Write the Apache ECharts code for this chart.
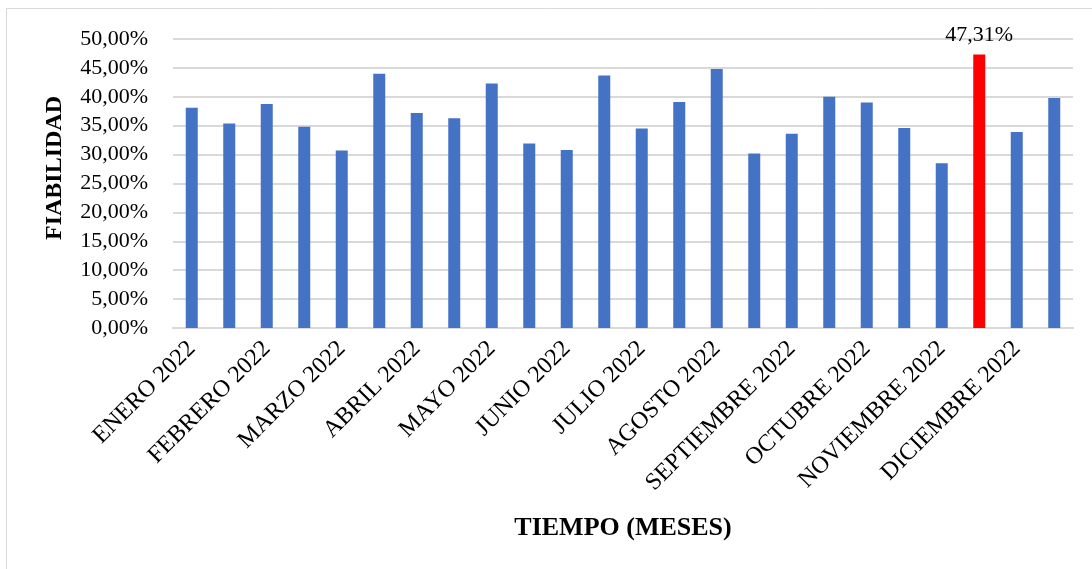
<!DOCTYPE html>
<html>
<head>
<meta charset="utf-8">
<script src="https://cdn.jsdelivr.net/npm/echarts@6/dist/echarts.min.js"></script>
<style>
html,body{margin:0;padding:0;background:#fff;}
#chart{width:1092px;height:569px;}
</style>
</head>
<body>
<div id="chart"></div>
<script>
const months = ['ENERO 2022','FEBRERO 2022','MARZO 2022','ABRIL 2022','MAYO 2022','JUNIO 2022','JULIO 2022','AGOSTO 2022','SEPTIEMBRE 2022','OCTUBRE 2022','NOVIEMBRE 2022','DICIEMBRE 2022'];
const categories = months.flatMap(m => [m, m]);
const fiabilidad = [38.1, 35.4, 38.75, 34.8, 30.7, 44.0, 37.2, 36.3, 42.3, 31.9, 30.8, 43.7, 34.5, 39.1, 44.8, 30.2, 33.6, 40.0, 39.0, 34.6, 28.5, 47.31, 33.9, 39.8];
const highlightIndex = 21;
const yTicks = {min: 0, max: 50, interval: 5};

const fmt = v => v.toFixed(2).replace('.', ',') + '%';
const serif = '"Liberation Serif", "Times New Roman", serif';

const chart = echarts.init(document.getElementById('chart'));
chart.setOption({
  animation: false,
  backgroundColor: '#fff',
  grid: {left: 173, right: 19, top: 39, bottom: 241},
  graphic: [
    {type: 'rect', shape: {x: 6.5, y: 8.5, width: 1200, height: 700}, style: {fill: 'none', stroke: '#d9d9d9', lineWidth: 1}},
    {type: 'text', x: 55, y: 168, rotation: Math.PI / 2,
     style: {text: 'FIABILIDAD', font: 'bold 24px ' + serif, fill: '#000', align: 'center', verticalAlign: 'middle'}},
    {type: 'text', x: 623, y: 528,
     style: {text: 'TIEMPO (MESES)', font: 'bold 26px ' + serif, fill: '#000', align: 'center', verticalAlign: 'middle'}}
  ],
  xAxis: {
    type: 'category',
    data: categories,
    axisLine: {lineStyle: {color: '#d9d9d9', width: 2}},
    axisTick: {show: false},
    axisLabel: {interval: 1, rotate: 45, margin: 17, color: '#000', fontFamily: serif, fontSize: 24}
  },
  yAxis: {
    type: 'value',
    min: yTicks.min, max: yTicks.max, interval: yTicks.interval,
    axisLine: {show: false},
    axisTick: {show: false},
    splitLine: {lineStyle: {color: '#d9d9d9', width: 2}},
    axisLabel: {formatter: fmt, margin: 25, color: '#000', fontFamily: serif, fontSize: 22}
  },
  series: [{
    type: 'bar',
    barWidth: '32%',
    data: fiabilidad.map((v, i) => i === highlightIndex ? {
      value: v,
      itemStyle: {color: '#ff0000'},
      label: {show: true, position: 'top', distance: 8, formatter: p => fmt(p.value), color: '#000', fontFamily: serif, fontSize: 22}
    } : {value: v}),
    itemStyle: {color: '#4472c4'}
  }]
});
</script>
</body>
</html>
